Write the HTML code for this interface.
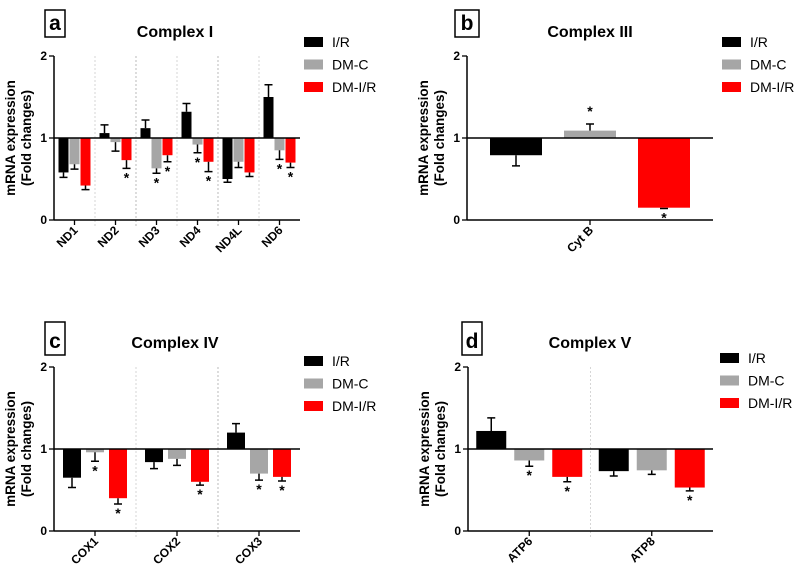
<!DOCTYPE html>
<html><head><meta charset="utf-8"><style>
body{margin:0;background:#fff;}
svg{display:block;font-family:"Liberation Sans",Arial,sans-serif;}
</style></head><body>
<svg id="fig" width="798" height="578" viewBox="0 0 798 578"></svg>
<script>
const seriesNames=["I/R","DM-C","DM-I/R"];
const colors=["#000000","#a6a6a6","#ff0000"];
// Panel a
const catsA=["ND1","ND2","ND3","ND4","ND4L","ND6"];
const irA=[0.58,1.06,1.12,1.32,0.50,1.50];
const irErrA=[0.06,0.10,0.10,0.10,0.04,0.15];
const dmcA=[0.68,0.95,0.63,0.92,0.71,0.85];
const dmcErrA=[0.06,0.11,0.06,0.10,0.07,0.11];
const dmirA=[0.42,0.73,0.79,0.71,0.58,0.70];
const dmirErrA=[0.05,0.10,0.08,0.12,0.05,0.06];
const starsA=[[0,0,0],[0,0,1],[0,1,1],[0,1,1],[0,0,0],[0,1,1]];
// Panel b
const catsB=["Cyt B"];
const irB=[0.79];const irErrB=[0.13];
const dmcB=[1.09];const dmcErrB=[0.08];
const dmirB=[0.15];const dmirErrB=[0.01];
const starsB=[[0,1,1]];
// Panel c
const catsC=["COX1","COX2","COX3"];
const irC=[0.65,0.84,1.20];const irErrC=[0.12,0.08,0.11];
const dmcC=[0.96,0.88,0.70];const dmcErrC=[0.11,0.08,0.08];
const dmirC=[0.40,0.60,0.66];const dmirErrC=[0.07,0.04,0.05];
const starsC=[[0,1,1],[0,0,1],[0,1,1]];
// Panel d
const catsD=["ATP6","ATP8"];
const irD=[1.22,0.73];const irErrD=[0.16,0.06];
const dmcD=[0.86,0.74];const dmcErrD=[0.07,0.05];
const dmirD=[0.66,0.53];const dmirErrD=[0.06,0.04];
const starsD=[[0,1,1],[0,0,1]];
const yTicks=[0,1,2];

const NS="http://www.w3.org/2000/svg";
const svg=document.getElementById('fig');
function mk(tag,attrs,parent,text){const e=document.createElementNS(NS,tag);for(const k in attrs)e.setAttribute(k,attrs[k]);if(text!==undefined)e.textContent=text;(parent||svg).appendChild(e);return e;}

function panel(o){
  const g=mk('g',{});
  
  
  const y=v=>o.y0-(v/2)*(o.y0-o.yTop);
  const n=o.cats.length;
  const x0=o.ax, x1=o.axEnd;
  const step=(x1-x0)/n;
  const cx=i=>x0+step*(i+0.5);
  for(let i=1;i<n;i++){
    const d=mk('line',{x1:x0+step*i,x2:x0+step*i,y1:o.yTop,y2:o.y0+6,stroke:i%2?"#ccc":"#aaa","stroke-width":0.8,"stroke-dasharray":"2,2"},g);
    
    
  }
  const vals=[o.ir,o.dmc,o.dmir], errs=[o.irE,o.dmcE,o.dmirE];
  for(let i=0;i<n;i++){
    for(let s=0;s<3;s++){
      const bx=cx(i)+(s-1)*o.bstep-o.bw/2;
      const v=vals[s][i], e=errs[s][i];
      const top=Math.min(y(v),y(1)), h=Math.abs(y(v)-y(1));
      const r=mk('rect',{x:bx,y:top,width:o.bw,height:h,fill:colors[s]},g);
      
      
      const ev=v>=1?v+e:v-e;
      const mx=bx+o.bw/2;
      const el=mk('path',{d:`M${mx},${y(v)}V${y(ev)}M${mx-4},${y(ev)}H${mx+4}`,stroke:"#000","stroke-width":1.5,fill:"none"},g);
      
      
      if(o.stars[i][s]){
        const sy=v>=1?y(ev)-8:y(ev)+14;
        const st=mk('text',{x:mx,y:sy,"text-anchor":"middle","font-size":14,"font-weight":"bold"},g,"*");
        
        
      }
    }
    const tk=mk('line',{x1:cx(i),x2:cx(i),y1:o.y0,y2:o.y0+5,stroke:"#000","stroke-width":1.3},g);
    
    
    const lb=mk('text',{x:cx(i)+4,y:o.y0+11,"text-anchor":"end","font-size":12,"font-weight":"bold",transform:`rotate(-45 ${cx(i)+4} ${o.y0+11})`},g,o.cats[i]);
    
    
  }
  const ya=mk('line',{x1:x0,x2:x0,y1:o.yTop,y2:o.y0,stroke:"#000","stroke-width":1.5},g);
  
  const xa=mk('line',{x1:x0,x2:x1,y1:o.y0,y2:o.y0,stroke:"#000","stroke-width":1.5},g);
  
  const bl=mk('line',{x1:x0,x2:x1,y1:y(1),y2:y(1),stroke:"#000","stroke-width":1.5},g);
  
  yTicks.forEach(t=>{
    const l=mk('line',{x1:x0-5,x2:x0,y1:y(t),y2:y(t),stroke:"#000","stroke-width":1.3},g);
    
    const tx=mk('text',{x:x0-7,y:y(t)+4,"text-anchor":"end","font-size":12,"font-weight":"bold"},g,String(t));
    
  });
  const ymid=(o.y0+o.yTop)/2;
  const yt=mk('text',{x:0,y:0,"text-anchor":"middle","font-size":13.5,"font-weight":"bold",transform:`translate(${x0-39},${ymid}) rotate(-90)`},g);
  
  mk('tspan',{x:0,dy:0},yt,"mRNA expression");
  mk('tspan',{x:0,dy:16},yt,"(Fold changes)");
  const box=mk('rect',{x:o.box[0],y:o.box[1],width:o.box[2],height:o.box[3],fill:"#fff",stroke:"#000","stroke-width":1.5},g);
  
  const lt=mk('text',{x:o.box[0]+o.box[2]/2,y:o.box[1]+o.box[3]-7,"text-anchor":"middle","font-size":21,"font-weight":"bold"},g,o.letter);
  
  const tt=mk('text',{x:o.titleX,y:o.titleY,"text-anchor":"middle","font-size":16,"font-weight":"bold"},g,o.title);
  
  for(let s=0;s<3;s++){
    const ly=o.legY+s*22.5;
    const sw=mk('rect',{x:o.legX,y:ly-5,width:19,height:10,fill:colors[s]},g);
    
    const t=mk('text',{x:o.legX+28,y:ly+5,"font-size":14},g,seriesNames[s]);
    
  }
}
panel({letter:"a",title:"Complex I",cats:catsA,ir:irA,irE:irErrA,dmc:dmcA,dmcE:dmcErrA,dmir:dmirA,dmirE:dmirErrA,stars:starsA,
  ax:54,axEnd:300,yTop:56,y0:220,bw:10,bstep:11,box:[45,10,20,27],titleX:175,titleY:37,legX:304,legY:42});
panel({letter:"b",title:"Complex III",cats:catsB,ir:irB,irE:irErrB,dmc:dmcB,dmcE:dmcErrB,dmir:dmirB,dmirE:dmirErrB,stars:starsB,
  ax:467,axEnd:713,yTop:56,y0:220,bw:52,bstep:74,box:[455,10,24,27],titleX:590,titleY:37,legX:722,legY:42});
panel({letter:"c",title:"Complex IV",cats:catsC,ir:irC,irE:irErrC,dmc:dmcC,dmcE:dmcErrC,dmir:dmirC,dmirE:dmirErrC,stars:starsC,
  ax:54,axEnd:300,yTop:367,y0:531,bw:18,bstep:23,box:[45,322,20,33],titleX:175,titleY:348,legX:304,legY:361});
panel({letter:"d",title:"Complex V",cats:catsD,ir:irD,irE:irErrD,dmc:dmcD,dmcE:dmcErrD,dmir:dmirD,dmirE:dmirErrD,stars:starsD,
  ax:468,axEnd:713,yTop:367,y0:531,bw:30,bstep:38,box:[462,322,20,33],titleX:590,titleY:348,legX:720,legY:358});
</script>
</body></html>
